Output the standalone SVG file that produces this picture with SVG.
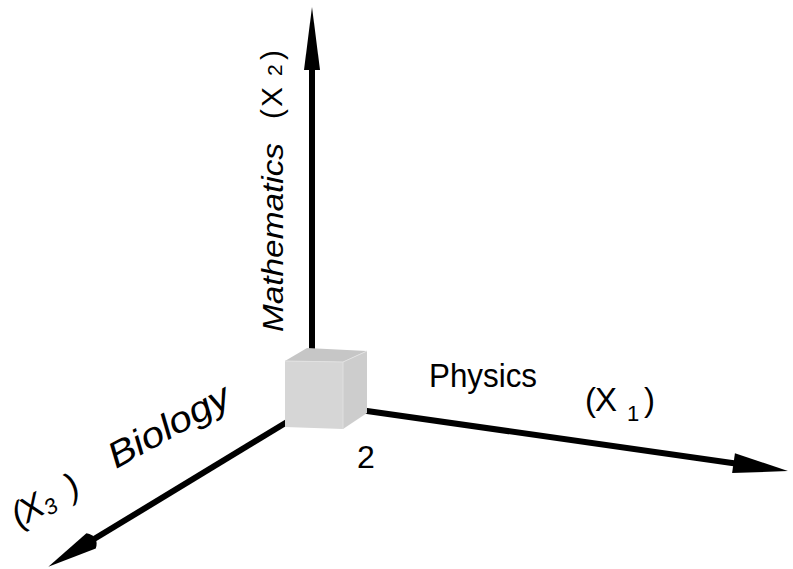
<svg xmlns="http://www.w3.org/2000/svg" width="793" height="569" viewBox="0 0 793 569">
<style>
.ax{stroke:#000;stroke-width:6;fill:none}
.t{font-family:"Liberation Sans",Arial,sans-serif;fill:#000}
.it{font-style:italic}
</style>
<defs>
<marker id="hf" markerUnits="userSpaceOnUse" orient="auto" refX="0" refY="0" markerWidth="80" markerHeight="30" overflow="visible">
<path d="M-2,-8 L61,0 L-2,8 Z" fill="#000"/>
</marker>
<marker id="hp" markerUnits="userSpaceOnUse" orient="auto" refX="0" refY="0" markerWidth="80" markerHeight="30" overflow="visible">
<path d="M-2,-10 L53,0 L-2,10 Z" fill="#000"/>
</marker>
<marker id="hs" markerUnits="userSpaceOnUse" orient="auto" refX="0" refY="0" markerWidth="80" markerHeight="30" overflow="visible">
<path d="M54,0 L4,-9 Q-6,0 4,9 Z" fill="#000"/>
</marker>
</defs>
<rect width="793" height="569" fill="#fff"/>
<g id="connectors">
<line class="ax" x1="312" y1="355" x2="312" y2="68" marker-end="url(#hf)"/>
<line class="ax" x1="360" y1="410" x2="735.5" y2="463.5" marker-end="url(#hp)"/>
<line class="ax" x1="292" y1="419" x2="94.5" y2="538.8" marker-end="url(#hs)"/>
</g>
<g id="cube">
<polygon points="285,361 307,348 367,351 343,362" fill="#c6c6c6"/>
<polygon points="285,361 343,362 343,429 285,427" fill="#d6d6d6"/>
<polygon points="343,362 367,351 367,413 343,429" fill="#cdcdcd"/>
<polyline points="285,361 343,362 367,351" fill="none" stroke="#e2e2e2" stroke-width="1"/>
<line x1="343" y1="362" x2="343" y2="429" stroke="#e0e0e0" stroke-width="1"/>
</g>
<g id="label-math">
<text class="t it" font-size="30" transform="translate(283,332) rotate(-90)" textLength="189" lengthAdjust="spacingAndGlyphs">Mathematics</text>
<text class="t" font-size="30" transform="translate(282,119) rotate(-90)"><tspan x="0">(</tspan><tspan x="12">X</tspan><tspan x="43" font-size="21">2</tspan><tspan x="59">)</tspan></text>
</g>
<g id="label-phys">
<text class="t" font-size="33" x="429" y="387" textLength="108" lengthAdjust="spacingAndGlyphs">Physics</text>
<text class="t" font-size="33" y="411"><tspan x="585">(</tspan><tspan x="595">X</tspan><tspan x="627" y="421" font-size="22">1</tspan><tspan x="644" y="411">)</tspan></text>
</g>
<g id="label-bio">
<text class="t it" font-size="36" transform="translate(116,469) rotate(-29)" textLength="134" lengthAdjust="spacingAndGlyphs">Biology</text>
<text class="t it" font-size="35" transform="translate(19,528) rotate(-29)"><tspan x="0">(</tspan><tspan x="9">X</tspan><tspan x="32" y="4" font-size="22">3</tspan><tspan x="61" y="0">)</tspan></text>
</g>
<g id="label-2">
<text class="t" font-size="32" x="357" y="468">2</text>
</g>
</svg>
